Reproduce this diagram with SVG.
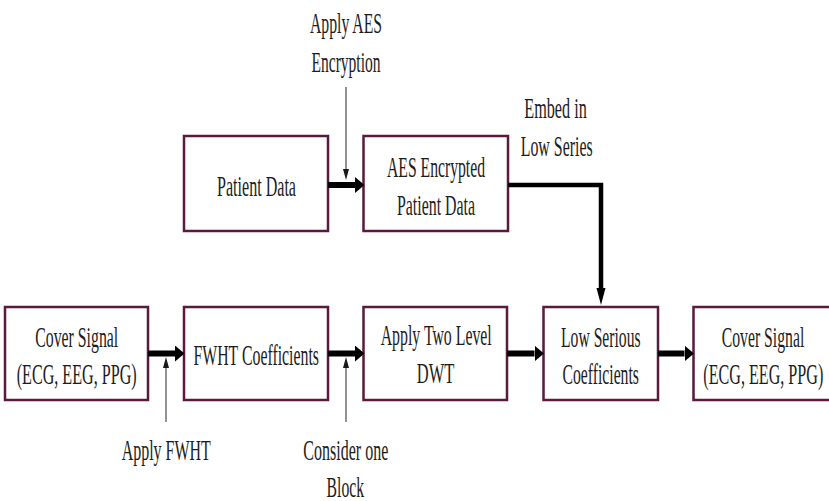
<svg xmlns="http://www.w3.org/2000/svg" width="829" height="501" viewBox="0 0 829 501">
  <style>
    .box { fill: #ffffff; stroke: #5a1a3c; stroke-width: 2.5; }
    .t { font-family: "Liberation Serif", "Times New Roman", serif; font-size: 29px; fill: #1c1c1c; text-anchor: middle; }
    .thick { fill: none; stroke: #000000; stroke-width: 6; }
    .elbow { fill: none; stroke: #000000; stroke-width: 4.5; stroke-linejoin: miter; }
    .thin { fill: none; stroke: #4a4a4a; stroke-width: 1.2; }
  </style>
  <defs>
    <marker id="headThick" markerUnits="userSpaceOnUse" markerWidth="10" markerHeight="16" refX="0" refY="8" orient="auto">
      <path d="M0,0 L9.5,8 L0,16 z" fill="#000000"/>
    </marker>
    <marker id="headElbow" markerUnits="userSpaceOnUse" markerWidth="17" markerHeight="10" refX="0" refY="5" orient="auto">
      <path d="M0,0.5 L17,5 L0,9.5 z" fill="#000000"/>
    </marker>
    <marker id="headThin" markerUnits="userSpaceOnUse" markerWidth="11" markerHeight="7" refX="0" refY="3.5" orient="auto">
      <path d="M0,0.5 L11,3.5 L0,6.5 z" fill="#1a1a1a"/>
    </marker>
  </defs>

  <rect width="829" height="501" fill="#ffffff"/>

  <!-- upper row; labels use a narrow serif: glyphs squeezed to 60% width -->
  <g id="patient-data">
    <rect class="box" x="184" y="136" width="144" height="95"/>
    <text class="t" transform="translate(256.5,195.5) scale(0.6,1)" textLength="131.7" lengthAdjust="spacingAndGlyphs">Patient Data</text>
  </g>
  <g id="aes-encrypted">
    <rect class="box" x="363.5" y="136" width="144.5" height="95"/>
    <text class="t" transform="translate(436,177) scale(0.6,1)" textLength="163.3" lengthAdjust="spacingAndGlyphs">AES Encrypted</text>
    <text class="t" transform="translate(436,215) scale(0.6,1)" textLength="130" lengthAdjust="spacingAndGlyphs">Patient Data</text>
  </g>

  <!-- lower row -->
  <g id="cover-signal-in">
    <rect class="box" x="5" y="307" width="143" height="93"/>
    <text class="t" transform="translate(76.7,346.5) scale(0.6,1)" textLength="138.3" lengthAdjust="spacingAndGlyphs">Cover Signal</text>
    <text class="t" transform="translate(76.7,384) scale(0.6,1)" textLength="200" lengthAdjust="spacingAndGlyphs">(ECG, EEG, PPG)</text>
  </g>
  <g id="fwht-coefficients">
    <rect class="box" x="184" y="307" width="144" height="93"/>
    <text class="t" transform="translate(256.2,365) scale(0.6,1)" textLength="209.2" lengthAdjust="spacingAndGlyphs">FWHT Coefficients</text>
  </g>
  <g id="two-level-dwt">
    <rect class="box" x="363.5" y="307" width="143.5" height="93"/>
    <text class="t" transform="translate(436.2,345) scale(0.6,1)" textLength="185" lengthAdjust="spacingAndGlyphs">Apply Two Level</text>
    <text class="t" transform="translate(435.5,383.3) scale(0.6,1)" textLength="62.5" lengthAdjust="spacingAndGlyphs">DWT</text>
  </g>
  <g id="low-serious">
    <rect class="box" x="543.5" y="307" width="114.5" height="93"/>
    <text class="t" transform="translate(600.8,346.5) scale(0.6,1)" textLength="132.5" lengthAdjust="spacingAndGlyphs">Low Serious</text>
    <text class="t" transform="translate(600.7,384) scale(0.6,1)" textLength="127.5" lengthAdjust="spacingAndGlyphs">Coefficients</text>
  </g>
  <g id="cover-signal-out">
    <rect class="box" x="693.5" y="307" width="150" height="93"/>
    <text class="t" transform="translate(763,346.5) scale(0.6,1)" textLength="137.5" lengthAdjust="spacingAndGlyphs">Cover Signal</text>
    <text class="t" transform="translate(763.3,384) scale(0.6,1)" textLength="200" lengthAdjust="spacingAndGlyphs">(ECG, EEG, PPG)</text>
  </g>

  <!-- connectors -->
  <g id="connectors">
    <line class="thick" x1="328" y1="185" x2="355" y2="185" marker-end="url(#headThick)"/>
    <path class="elbow" d="M508,185 L601,185 L601,288" marker-end="url(#headElbow)"/>
    <line class="thick" x1="148" y1="353.5" x2="175" y2="353.5" marker-end="url(#headThick)"/>
    <line class="thick" x1="328" y1="353.5" x2="355" y2="353.5" marker-end="url(#headThick)"/>
    <line class="thick" x1="507" y1="353.5" x2="534.5" y2="353.5" marker-end="url(#headThick)"/>
    <line class="thick" x1="658" y1="353.5" x2="684.5" y2="353.5" marker-end="url(#headThick)"/>

    <line class="thin" x1="346" y1="87" x2="346" y2="169" marker-end="url(#headThin)"/>
    <line class="thin" x1="166" y1="422" x2="166" y2="368" marker-end="url(#headThin)"/>
    <line class="thin" x1="346" y1="422" x2="346" y2="368" marker-end="url(#headThin)"/>
  </g>

  <!-- step labels -->
  <g id="step-labels">
    <text class="t" transform="translate(346,33.3) scale(0.6,1)" textLength="120" lengthAdjust="spacingAndGlyphs">Apply AES</text>
    <text class="t" transform="translate(346,71.5) scale(0.6,1)" textLength="115" lengthAdjust="spacingAndGlyphs">Encryption</text>
    <text class="t" transform="translate(555.5,118) scale(0.6,1)" textLength="104.2" lengthAdjust="spacingAndGlyphs">Embed in</text>
    <text class="t" transform="translate(556.7,156) scale(0.6,1)" textLength="120" lengthAdjust="spacingAndGlyphs">Low Series</text>
    <text class="t" transform="translate(166.2,459.5) scale(0.6,1)" textLength="148.3" lengthAdjust="spacingAndGlyphs">Apply FWHT</text>
    <text class="t" transform="translate(345.8,459.5) scale(0.6,1)" textLength="141.7" lengthAdjust="spacingAndGlyphs">Consider one</text>
    <text class="t" transform="translate(345.3,496.5) scale(0.6,1)" textLength="62.5" lengthAdjust="spacingAndGlyphs">Block</text>
  </g>
</svg>
